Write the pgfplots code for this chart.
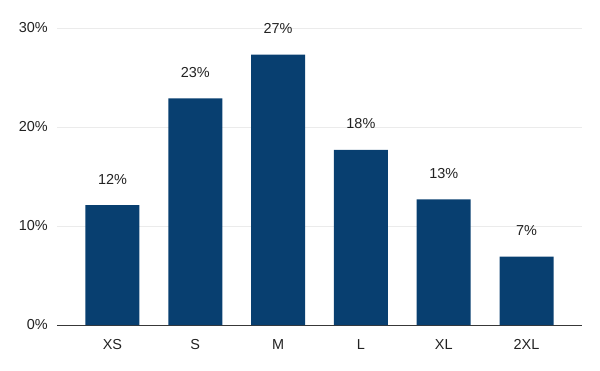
\documentclass[border=0pt]{standalone}
\usepackage{pgfplots}
\pgfplotsset{compat=1.18}
\usepackage{fontspec}
\setmainfont{Liberation Sans}
\definecolor{barblue}{RGB}{8,63,112}
\definecolor{gridgray}{RGB}{235,235,235}
\definecolor{txt}{RGB}{34,34,34}
\begin{document}
\begin{tikzpicture}
\useasboundingbox (-57bp,-46bp) rectangle (543bp,325bp);
\begin{axis}[
  at={(0,0)}, anchor=south west,
  scale only axis,
  width=525bp, height=297bp,
  xmin=-0.67, xmax=5.67,
  ymin=0, ymax=30,
  ybar, bar width=54bp,
  xtick={0,1,2,3,4,5},
  xticklabels={XS,S,M,L,XL,2XL},
  ytick={0,10,20,30},
  yticklabel={\pgfmathprintnumber{\tick}\%},
  /pgf/number format/assume math mode=true,
  major tick length=0pt,
  ymajorgrids, grid style={gridgray, line width=0.8pt},
  axis y line*=left,
  y axis line style={draw=none},
  axis x line*=bottom,
  x axis line style={draw=txt!90, line width=0.9pt, -},
  tick label style={font=\fontsize{14.5}{16}\selectfont, text=txt, inner sep=0pt},
  yticklabel style={anchor=east, xshift=-9bp},
  xticklabel style={anchor=base, yshift=-24bp},
  nodes near coords={\pgfmathprintnumber[fixed,precision=0]{\pgfplotspointmeta}\%},
  every node near coord/.append style={font=\fontsize{14.5}{16}\selectfont, text=txt, anchor=base, yshift=21bp, inner sep=0pt},
  clip=false,
]
\addplot[fill=barblue, draw=none] coordinates {(0,12.1) (1,22.9) (2,27.3) (3,17.7) (4,12.7) (5,6.9)};
\end{axis}
\end{tikzpicture}
\end{document}
